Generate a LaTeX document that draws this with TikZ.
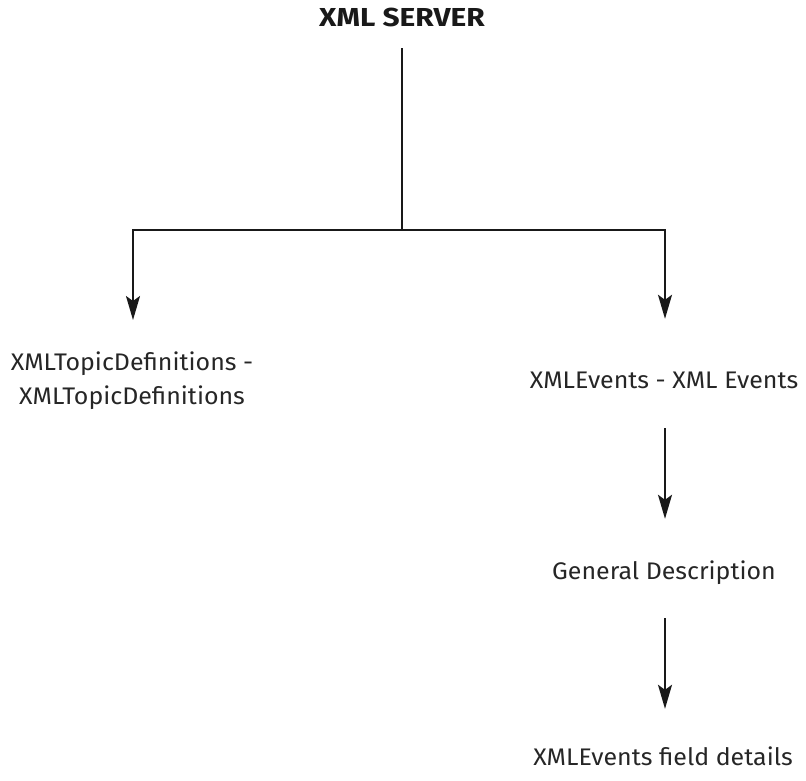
\documentclass[tikz,border=0pt]{standalone}
\usepackage{fontspec}
\setmainfont{Fira Sans}[FakeStretch=1.04]
\newfontfamily\headfont{Fira Sans Bold}[FakeStretch=1.15]
\usetikzlibrary{arrows.meta, positioning}

\begin{document}
\begin{tikzpicture}[
    x=1pt, y=-1pt,
    title/.style={font=\fontsize{26}{30}\selectfont\headfont, text=black!90, inner sep=0pt, text depth=0pt},
    item/.style={font=\fontsize{24}{34}\selectfont, text=black!85, align=center, inner sep=0pt},
    oneline/.style={item, text height=17pt, text depth=5pt},
    link/.style={line width=2pt, black!90},
    arrow/.style={link, -{Stealth[length=24pt, width=14pt, inset=5pt]}}
]
\useasboundingbox (0,0) rectangle (806,780);

% Top: server
\node[title, anchor=base] (server) at (402,26) {XML SERVER};
\coordinate (split) at (402,230);

% Branches
\node[item, anchor=north] (topics) at (132,352) {XMLTopicDefinitions -\\XMLTopicDefinitions};
\node[oneline, anchor=base] (events) at (664,388) {XMLEvents - XML Events};
\node[oneline, anchor=base] (general) at (664,579) {General Description};
\node[oneline, anchor=base] (fields) at (663,765) {XMLEvents field details};

% Arrows
\draw[link, shorten <=22pt] (server) -- (split);
\draw[arrow, shorten >=32pt] (split) -| ([xshift=1pt]topics.north);
\draw[arrow, shorten >=52pt] (split) -| ([xshift=1pt]events.north);
\draw[arrow, shorten <=35pt, shorten >=43pt] ([xshift=1pt]events.south) -- ([xshift=1pt]general.north);
\draw[arrow, shorten <=34pt, shorten >=39pt] ([xshift=1pt]general.south) -- ([xshift=2pt]fields.north);

\end{tikzpicture}
\end{document}
